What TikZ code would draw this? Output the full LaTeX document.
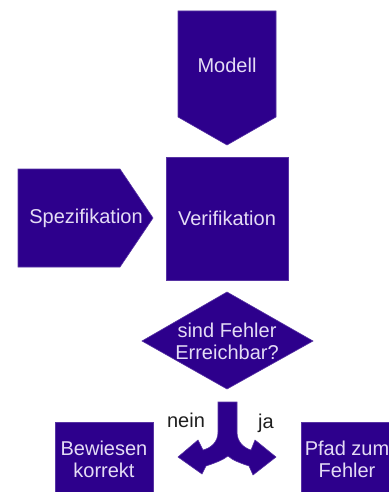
\documentclass[tikz,border=0pt]{standalone}
\usepackage{fontspec}
\setmainfont{Liberation Sans}
\definecolor{boxfill}{RGB}{45,0,140}
\definecolor{boxtext}{RGB}{228,220,245}
\definecolor{labeltext}{RGB}{30,30,30}
\begin{document}
\begin{tikzpicture}[x=1pt,y=-1pt,
  shapefill/.style={fill=boxfill,draw=boxfill!80!white,line width=0.6pt},
  boxlabel/.style={text=boxtext,font=\fontsize{20}{22}\selectfont,align=center,inner sep=0pt},
  plainlabel/.style={text=labeltext,font=\fontsize{20}{22}\selectfont,inner sep=0pt}]
\useasboundingbox (0,0) rectangle (388,492);
% Modell
\path[shapefill] (178,11) -- (276,11) -- (276,117) -- (227,145) -- (178,117) -- cycle;
\node[boxlabel] (modell) at (227,65) {Modell};
% Spezifikation
\path[shapefill] (18,169) -- (120,169) -- (153,218) -- (120,267) -- (18,267) -- cycle;
\node[boxlabel] (spez) at (86,218) {Spezifikation};
% Verifikation
\path[shapefill] (166,157) rectangle (288,280);
\node[boxlabel] (verif) at (227,218) {Verifikation};
% Diamond
\path[shapefill] (142,341) -- (227,292) -- (313,341) -- (227,389) -- cycle;
\node[boxlabel] (frage) at (227,341) {sind Fehler\\Erreichbar?};
% Fork arrow
\path[shapefill] (218,402) -- (237,402) -- (237,432)
  .. controls (237,442) and (244,448) .. (251,450)
  -- (255,440) -- (276,457) -- (253,475) -- (249,466)
  .. controls (240,463) and (232,460) .. (228,456)
  .. controls (223,460) and (215,463) .. (206,466)
  -- (202,474) -- (178,457) -- (198,440) -- (203,450)
  .. controls (211,448) and (218,442) .. (218,432) -- cycle;
\node[plainlabel] (nein) at (186,420) {nein};
\node[plainlabel] (ja) at (266,423) {ja};
% Bewiesen korrekt
\path[shapefill] (55,422) rectangle (153,496);
\node[boxlabel] (bew) at (104,459) {Bewiesen\\korrekt};
% Pfad zum Fehler
\path[shapefill] (301,422) rectangle (392,496);
\node[boxlabel] (pfad) at (347,459) {Pfad zum\\Fehler};
\end{tikzpicture}
\end{document}
